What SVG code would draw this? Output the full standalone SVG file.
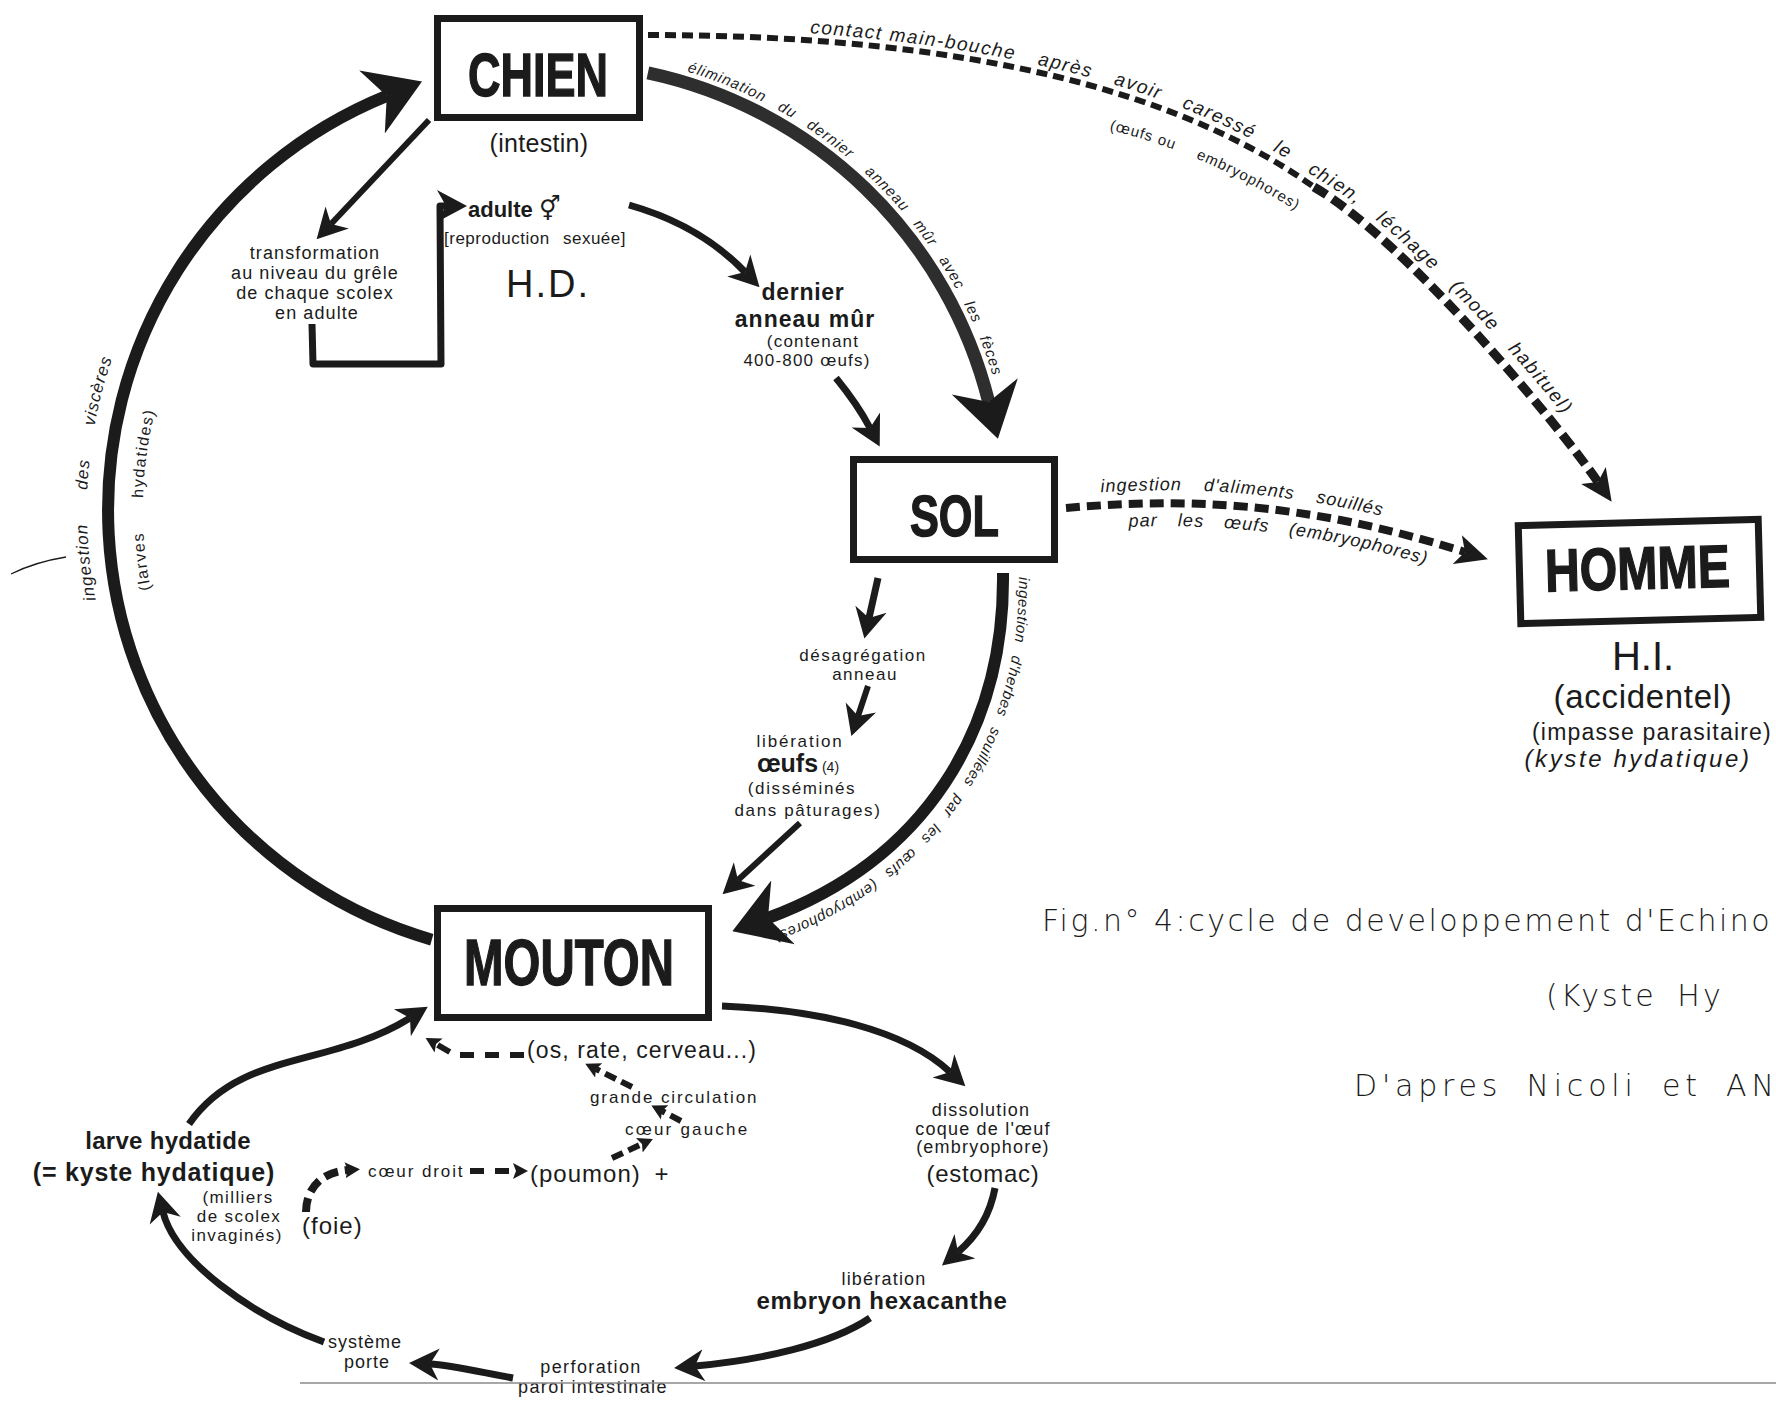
<svg xmlns="http://www.w3.org/2000/svg" width="1776" height="1401" viewBox="0 0 1776 1401">
<defs>
<style>
text{font-family:'Liberation Sans',Arial,Helvetica,sans-serif;fill:#1b1b1b}
.bx{fill:none;stroke:#1b1b1b;stroke-width:7}
.big{font-weight:bold;stroke:#1b1b1b;stroke-width:1.4}
.b{font-weight:bold}
.it{font-style:italic}
.hand{font-family:'DejaVu Sans',sans-serif;font-weight:200;font-size:30px}
.ln{fill:none;stroke:#1b1b1b;stroke-linejoin:round}
.cyc{stroke-width:12}
.stip{stroke:#2e2e2e;stroke-width:13}
.ar{stroke-width:6}
.ar7{stroke-width:7}
.dA{stroke-width:6;stroke-dasharray:11 6}
.dB{stroke-width:9;stroke-dasharray:15 7}
.dC{stroke-width:8;stroke-dasharray:14 7}
.ds{stroke-width:6;stroke-dasharray:14 11}
.ds2{stroke-width:6;stroke-dasharray:12 6}
.lel{font-size:15px;font-style:italic;letter-spacing:1px;word-spacing:10px}
.lhe{font-size:15px;font-style:italic;letter-spacing:0.6px;word-spacing:8px}
.lco{font-size:19px;font-style:italic;letter-spacing:1.6px;word-spacing:16px}
.lco0{font-size:19px;font-style:italic;letter-spacing:1.6px}
.lso{font-size:18px;font-style:italic;letter-spacing:1px;word-spacing:16px}
.lpa{font-size:18px;font-style:italic;letter-spacing:1px;word-spacing:14px}
</style>
<marker id="ah-xl" viewBox="0 -38 56 76" markerWidth="56" markerHeight="76" refX="16" refY="0" orient="auto" markerUnits="userSpaceOnUse"><path d="M54,0 L0,-34 L16,0 L0,34 Z" fill="#1b1b1b"/></marker>
<marker id="ah-m" viewBox="0 -17 30 34" markerWidth="30" markerHeight="34" refX="9" refY="0" orient="auto" markerUnits="userSpaceOnUse"><path d="M30,0 L0,-16 L9,0 L0,16 Z" fill="#1b1b1b"/></marker>
<marker id="ah-d" viewBox="0 -16 32 32" markerWidth="32" markerHeight="32" refX="8" refY="0" orient="auto" markerUnits="userSpaceOnUse"><path d="M32,0 L0,-15 L8,0 L0,15 Z" fill="#1b1b1b"/></marker>
<marker id="ah-s" viewBox="0 -9 15 18" markerWidth="15" markerHeight="18" refX="3" refY="0" orient="auto" markerUnits="userSpaceOnUse"><path d="M15,0 L0,-8 L3,0 L0,8 Z" fill="#1b1b1b"/></marker>
<!-- guide curves for the labels that follow the connectors -->
<path id="p-visc" d="M394.9,949.8 A468,468 0 0 1 394.9,70.2"/>
<path id="p-larv" d="M414.1,897.2 A412,412 0 0 1 414.1,122.8"/>
<path id="p-elim" d="M634.5,59 A458,458 0 0 1 1006,430.5"/>
<path id="p-herb" d="M1019,573 C1021,735 937,872 774,933 L740,944"/>
<path id="p-cont" d="M648,28 C900,28 1153,63 1319,180 C1413,232 1569,413 1608,475 L1630,510"/>
<path id="p-oeuf" d="M1065,122 Q1200,140 1340,240"/>
<path id="p-alim" d="M1066,495 C1180,485 1300,487 1465,539 L1520,557"/>
<path id="p-par" d="M1066,531 C1180,521 1300,523 1460,575 L1510,592"/>
</defs>
<rect width="1776" height="1401" fill="#ffffff"/>

<!-- connectors -->
<g id="connectors">
  <!-- main cycle -->
  <path class="ln cyc" d="M431.8,939.7 A447,447 0 0 1 386.8,95.9" marker-end="url(#ah-xl)"/>
  <path class="ln stip" d="M647.9,72.8 A447,447 0 0 1 988.7,401.9" marker-end="url(#ah-xl)"/>
  <path class="ln cyc" stroke-width="13" d="M1003,573 C1005,730 925,860 768,918" marker-end="url(#ah-xl)"/>
  <!-- towards man -->
  <path class="ln dA" d="M648,35 C900,35 1150,70 1314,187"/>
  <path class="ln dB" d="M1314,187 C1405,240 1555,420 1598,482" marker-end="url(#ah-d)"/>
  <path class="ln dC" d="M1066,508 C1180,498 1300,500 1465,552" marker-end="url(#ah-d)"/>
  <!-- inside the dog -->
  <path class="ln ar" d="M429,120 L331,224" marker-end="url(#ah-m)"/>
  <path class="ln ar7" d="M312,324 L313,364 L441,364 L440,206 L446,206" marker-end="url(#ah-m)"/>
  <path class="ln ar7" d="M629,205 Q700,225 745,272" marker-end="url(#ah-m)"/>
  <path class="ln ar7" d="M836,378 Q858,405 870,428" marker-end="url(#ah-m)"/>
  <!-- soil -->
  <path class="ln ar7" d="M878,578 L869,618" marker-end="url(#ah-m)"/>
  <path class="ln ar" d="M868,686 L858,716" marker-end="url(#ah-m)"/>
  <path class="ln ar" d="M800,823 L738,880" marker-end="url(#ah-m)"/>
  <!-- inside the sheep -->
  <path class="ln ar7" d="M722,1006 C820,1010 905,1030 950,1072" marker-end="url(#ah-m)"/>
  <path class="ln ar7" d="M995,1188 C990,1215 978,1235 958,1252" marker-end="url(#ah-m)"/>
  <path class="ln ar7" d="M870,1318 C830,1345 760,1360 695,1366" marker-end="url(#ah-m)"/>
  <path class="ln ar7" stroke-width="8" d="M513,1378 C480,1372 450,1365 430,1364" marker-end="url(#ah-m)"/>
  <path class="ln ar7" d="M324,1342 C250,1315 175,1260 163,1212" marker-end="url(#ah-m)"/>
  <path class="ln ar7" d="M189,1124 C240,1050 330,1068 410,1018" marker-end="url(#ah-m)"/>
  <!-- blood route -->
  <path class="ln dC" stroke-width="7" d="M306,1212 C306,1190 320,1172 348,1170" marker-end="url(#ah-s)"/>
  <path class="ln ds" d="M470,1171 L516,1171" marker-end="url(#ah-s)"/>
  <path class="ln ds2" d="M612,1158 L642,1144" marker-end="url(#ah-s)"/>
  <path class="ln ds2" d="M681,1121 L662,1111" marker-end="url(#ah-s)"/>
  <path class="ln ds2" d="M632,1087 L596,1069" marker-end="url(#ah-s)"/>
  <path class="ln ds" d="M524,1055 L455,1055 L436,1044" marker-end="url(#ah-s)"/>
</g>

<!-- labels along the cycle -->
<g id="cycle-labels">
  <text class="it" font-size="17" letter-spacing="1" word-spacing="28"><textPath href="#p-visc" startOffset="481">ingestion des viscères</textPath></text>
  <text font-size="16" letter-spacing="1.5" word-spacing="28"><textPath href="#p-larv" startOffset="423">(larves hydatides)</textPath></text>

  <text class="lel"><textPath href="#p-elim" startOffset="54">élimination du dernier</textPath></text>
  <text class="lel"><textPath href="#p-elim" startOffset="259.6">anneau mûr</textPath></text>
  <text class="lel"><textPath href="#p-elim" startOffset="374.8">avec les fèces</textPath></text>

  <text class="lhe"><textPath href="#p-herb" startOffset="4">ingestion d'herbes</textPath></text>
  <text class="lhe"><textPath href="#p-herb" startOffset="156.9">souillées par</textPath></text>
  <text class="lhe"><textPath href="#p-herb" startOffset="269.8">les œufs</textPath></text>
  <text class="lhe"><textPath href="#p-herb" startOffset="353">(embryophores)</textPath></text>

  <text class="lco0"><textPath href="#p-cont" startOffset="162">contact main-bouche</textPath></text>
  <text class="lco"><textPath href="#p-cont" startOffset="391.7">après avoir</textPath></text>
  <text class="lco"><textPath href="#p-cont" startOffset="542.2">caressé le chien,</textPath></text>
  <text class="lco"><textPath href="#p-cont" startOffset="766.9">léchage</textPath></text>
  <text class="lco"><textPath href="#p-cont" startOffset="867.5">(mode habituel)</textPath></text>

  <text font-size="15" letter-spacing="1"><textPath href="#p-oeuf" startOffset="45">(œufs ou</textPath></text>
  <text font-size="15" letter-spacing="1"><textPath href="#p-oeuf" startOffset="136">embryophores)</textPath></text>

  <text class="lso"><textPath href="#p-alim" startOffset="35">ingestion d'aliments</textPath></text>
  <text class="lso"><textPath href="#p-alim" startOffset="250.5">souillés</textPath></text>
  <text class="lpa"><textPath href="#p-par" startOffset="63">par les œufs</textPath></text>
  <text class="lpa"><textPath href="#p-par" startOffset="223">(embryophores)</textPath></text>
  <path class="ln" stroke-width="1.3" d="M11,574 Q35,562 66,557"/>
</g>

<!-- hosts -->
<g id="chien">
  <rect class="bx" x="437.5" y="18.5" width="202" height="99"/>
  <text class="big" x="468" y="96" font-size="62" textLength="140" lengthAdjust="spacingAndGlyphs">CHIEN</text>
  <text x="539" y="152" font-size="25" letter-spacing="0.3" text-anchor="middle">(intestin)</text>
</g>
<g id="sol">
  <rect class="bx" x="853.5" y="459.5" width="201" height="100"/>
  <text class="big" x="910" y="536" font-size="57" textLength="89" lengthAdjust="spacingAndGlyphs">SOL</text>
</g>
<g id="homme" transform="rotate(-1.5 1639 571)">
  <rect class="bx" x="1519.5" y="522.5" width="240" height="98"/>
  <text class="big" x="1545" y="589" font-size="60" textLength="185" lengthAdjust="spacingAndGlyphs">HOMME</text>
</g>
<g id="homme-notes" text-anchor="middle">
  <text x="1643" y="670" font-size="40">H.I.</text>
  <text x="1643" y="708" font-size="33" letter-spacing="0.7">(accidentel)</text>
  <text x="1652" y="740" font-size="23" letter-spacing="1.2">(impasse parasitaire)</text>
  <text class="it" x="1638" y="767" font-size="24" letter-spacing="2.6">(kyste hydatique)</text>
</g>
<g id="mouton">
  <rect class="bx" x="437.5" y="908.5" width="271" height="109"/>
  <text class="big" x="464" y="985" font-size="65" textLength="210" lengthAdjust="spacingAndGlyphs">MOUTON</text>
</g>

<!-- stages in the dog -->
<g id="transformation" text-anchor="middle" font-size="18" letter-spacing="1.1">
  <text x="315" y="259">transformation</text>
  <text x="315" y="279">au niveau du grêle</text>
  <text x="315" y="299">de chaque scolex</text>
  <text x="317" y="319">en adulte</text>
</g>
<g id="adulte">
  <text class="b" x="468" y="217" font-size="22">adulte <tspan font-family="'DejaVu Sans',sans-serif" font-weight="normal" font-size="24">⚥</tspan></text>
  <text x="444" y="244" font-size="17" letter-spacing="0.5" word-spacing="8">[reproduction sexuée]</text>
  <text x="506" y="297" font-size="38" letter-spacing="2">H.D.</text>
</g>
<g id="anneau-mur" text-anchor="middle">
  <text class="b" x="803" y="300" font-size="23" letter-spacing="0.7">dernier</text>
  <text class="b" x="805" y="327" font-size="23" letter-spacing="1">anneau mûr</text>
  <text x="813" y="347" font-size="17" letter-spacing="1.2">(contenant</text>
  <text x="807" y="366" font-size="17" letter-spacing="1.2">400-800 œufs)</text>
</g>

<!-- stages in the soil -->
<g id="desagregation" text-anchor="middle" font-size="17" letter-spacing="1.5">
  <text x="863" y="661">désagrégation</text>
  <text x="865" y="680">anneau</text>
</g>
<g id="liberation-oeufs" text-anchor="middle">
  <text x="800" y="747" font-size="17" letter-spacing="1.8">libération</text>
  <text x="798" y="772"><tspan class="b" font-size="25">œufs</tspan><tspan font-size="14"> (4)</tspan></text>
  <text x="802" y="794" font-size="17" letter-spacing="1.6">(disséminés</text>
  <text x="808" y="816" font-size="17" letter-spacing="1.6">dans pâturages)</text>
</g>

<!-- stages in the sheep -->
<g id="organes">
  <text x="527" y="1058" font-size="23" letter-spacing="1.1">(os, rate, cerveau...)</text>
  <text x="590" y="1103" font-size="17" letter-spacing="1.9">grande circulation</text>
  <text x="625" y="1135" font-size="17" letter-spacing="2.2">cœur gauche</text>
  <text x="368" y="1177" font-size="17" letter-spacing="1.9">cœur droit</text>
  <text x="530" y="1182" font-size="24" letter-spacing="1" word-spacing="6">(poumon) +</text>
  <text x="302" y="1234" font-size="24" letter-spacing="1">(foie)</text>
</g>
<g id="larve" text-anchor="middle">
  <text class="b" x="168" y="1149" font-size="24" letter-spacing="0.3">larve hydatide</text>
  <text class="b" x="154" y="1181" font-size="25" letter-spacing="0.8">(= kyste hydatique)</text>
  <text x="238" y="1203" font-size="17" letter-spacing="1.4">(milliers</text>
  <text x="239" y="1222" font-size="17" letter-spacing="1.4">de scolex</text>
  <text x="237" y="1241" font-size="17" letter-spacing="1.4">invaginés)</text>
</g>
<g id="dissolution" text-anchor="middle">
  <text x="981" y="1116" font-size="18" letter-spacing="1.2">dissolution</text>
  <text x="983" y="1135" font-size="18" letter-spacing="1.2">coque de l'œuf</text>
  <text x="983" y="1153" font-size="18" letter-spacing="1.2">(embryophore)</text>
  <text x="983" y="1182" font-size="24" letter-spacing="0.7">(estomac)</text>
</g>
<g id="embryon" text-anchor="middle">
  <text x="884" y="1285" font-size="18" letter-spacing="1.2">libération</text>
  <text class="b" x="882" y="1309" font-size="24" letter-spacing="0.6">embryon hexacanthe</text>
</g>
<g id="perforation" text-anchor="middle" font-size="18" letter-spacing="1.4">
  <text x="591" y="1373">perforation</text>
  <text x="593" y="1393">paroi intestinale</text>
</g>
<g id="porte" text-anchor="middle" font-size="18" letter-spacing="1">
  <text x="365" y="1348">système</text>
  <text x="367" y="1368">porte</text>
</g>

<!-- caption -->
<g id="caption">
  <text class="hand" x="1042" y="931" letter-spacing="2.5">Fig.n° 4:cycle de developpement d'Echino</text>
  <text class="hand" x="1546" y="1006" font-size="34" letter-spacing="3" word-spacing="8">(Kyste Hy</text>
  <text class="hand" x="1354" y="1096" font-size="32" letter-spacing="4.8" word-spacing="10">D'apres Nicoli et AN</text>
</g>
<line x1="300" y1="1383" x2="1776" y2="1383" stroke="#8a8a8a" stroke-width="1.5"/>
</svg>
